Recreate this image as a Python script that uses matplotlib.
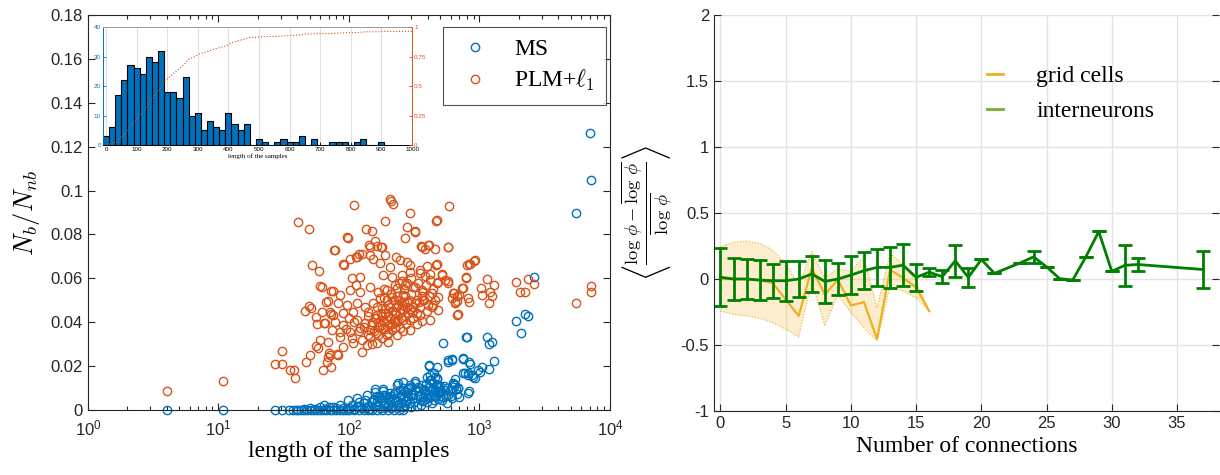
import numpy as np
import matplotlib
matplotlib.use("Agg")
import matplotlib.pyplot as plt
from matplotlib.lines import Line2D
from matplotlib.ticker import FormatStrFormatter, FixedLocator, LogLocator, NullFormatter

plt.rcParams['font.family'] = ['Liberation Sans', 'DejaVu Sans']
plt.rcParams['mathtext.fontset'] = 'cm'
plt.rcParams['axes.unicode_minus'] = False

BLUE = '#0072BD'
ORANGE = '#D95319'
YELLOW = '#EDB120'
LEAF = '#77AC30'
GREEN = '#008000'
SERIF = ['Liberation Serif', 'DejaVu Serif']

# === left panel: N_b/N_nb vs sample length (length, ratio)
ms_points = [
    (4.05, 0), (10.9, 0), (27, 0), (30.5, 0), (35, 0), (37, 0), (39, 0), (41, 0), (43, 0), (45, 0),
    (48, 0), (51, 0), (54, 0), (57, 0), (60, 0), (63, 0), (67, 0), (71, 0), (75, 0), (80, 0),
    (85, 0), (90, 0), (95, 0), (100, 0), (110, 0), (120, 0), (130, 0), (140, 0), (150, 0), (165, 0),
    (180, 0), (200, 0), (220, 0), (240, 0), (260, 0),
    (45, 0.0005), (50, 0.001), (55, 0.0003), (60, 0.0012), (64, 0.0023), (65, 0.0005), (70, 0.0015),
    (76, 0.0015), (80, 0.0008), (85, 0.0023), (90, 0.001), (99, 0.0045), (100, 0.001), (105, 0.0025),
    (110, 0.0005), (115, 0.002), (115, 0.0053), (120, 0.0035), (125, 0.001), (130, 0.003), (133, 0.0046),
    (137, 0.0068), (140, 0.002), (145, 0.0005), (150, 0.0035), (154, 0.0046), (155, 0.005), (157, 0.0095),
    (158, 0.0084), (160, 0.002), (163, 0.0064), (165, 0.004), (170, 0.006), (175, 0.001), (180, 0.0045),
    (182, 0.0095), (183, 0.0088), (183, 0.0068), (185, 0.003), (190, 0.007), (195, 0.0015), (200, 0.005),
    (205, 0.0035), (206, 0.0076), (210, 0.0065), (215, 0.002), (220, 0.0055), (225, 0.008), (230, 0.004),
    (232, 0.0114), (235, 0.0025), (236, 0.0121), (240, 0.006), (245, 0.009), (250, 0.003), (255, 0.0075),
    (259, 0.0128), (260, 0.005), (261, 0.0099), (265, 0.0015), (270, 0.0085), (275, 0.004), (277, 0.0084),
    (280, 0.0065), (290, 0.01), (292, 0.0116), (295, 0.003), (300, 0.0075), (310, 0.0055), (311, 0.0068),
    (318, 0.0131), (320, 0.009), (321, 0.0122), (330, 0.002), (340, 0.0105), (350, 0.0065), (360, 0.004),
    (361, 0.0114), (370, 0.0095), (371, 0.0061), (380, 0.0075), (382, 0.0091), (390, 0.012), (394, 0.0152),
    (400, 0.0055), (405, 0.0073), (409, 0.0207), (410, 0.0105), (412, 0.02), (416, 0.0158), (418, 0.0137),
    (420, 0.0085), (428, 0.0136), (430, 0.003), (440, 0.0125), (448, 0.0167), (450, 0.007), (455, 0.0151),
    (460, 0.0095), (469, 0.0196), (469, 0.0143), (470, 0.0115), (470, 0.0144), (480, 0.005), (480, 0.008),
    (483, 0.0114), (490, 0.0085), (500, 0.0065), (520, 0.0045), (527, 0.006), (528, 0.0304), (540, 0.009),
    (560, 0.003), (561, 0.0099), (576, 0.0068), (576, 0.0226), (577, 0.022), (600, 0.0065), (612, 0.0234),
    (612, 0.0091), (619, 0.0228), (629, 0.0125), (640, 0.012), (647, 0.0143), (649, 0.0114), (668, 0.0075),
    (684, 0.0101), (688, 0.0099), (700, 0.006), (744, 0.0237), (744, 0.0231), (752, 0.0167), (777, 0.017),
    (789, 0.0335), (798, 0.0334), (810, 0.0158), (820, 0.0079), (822, 0.0169), (838, 0.0086), (838, 0.0219),
    (846, 0.021), (871, 0.016), (899, 0.0151), (924, 0.0144), (980, 0.0182), (1010, 0.0174), (1042, 0.0196),
    (1150, 0.0335), (1188, 0.0302), (1190, 0.0189), (1245, 0.0309), (1282, 0.0222), (1919, 0.0405),
    (2085, 0.0352), (2250, 0.0438), (2370, 0.0427), (2630, 0.0604), (5470, 0.0897), (7130, 0.1049),
    (7030, 0.1263),
    (190, 0.0025), (210, 0.001), (230, 0.0045), (250, 0.0065), (270, 0.0025), (285, 0.0055), (300, 0.0015),
    (315, 0.0035), (335, 0.0065), (345, 0.0085), (355, 0.0025), (375, 0.0045), (395, 0.0035), (415, 0.006),
    (435, 0.0095), (445, 0.0045), (465, 0.0065), (475, 0.0105), (495, 0.011), (510, 0.0085), (530, 0.011),
    (550, 0.0065), (590, 0.009), (620, 0.0055), (660, 0.0095), (120, 0.0015), (135, 0.001), (165, 0.0025),
    (175, 0.0055), (200, 0.0025), (220, 0.0075), (240, 0.0015), (280, 0.0095), (300, 0.0105),
]
plm_points = [
    (4.05, 0.0088), (10.9, 0.0131), (27, 0.0211), (30.5, 0.0211), (30.5, 0.0267), (35.5, 0.0181),
    (37.7, 0.0181), (38.4, 0.0146), (40.7, 0.0856), (46, 0.045), (47.2, 0.0219), (49.3, 0.0823),
    (49.5, 0.0475), (50.4, 0.0249), (51.5, 0.0466), (52.5, 0.066), (55.6, 0.0294), (55.6, 0.0423),
    (57, 0.0392), (57.6, 0.0284), (59.4, 0.0632), (59.6, 0.0563), (62.7, 0.0181), (64.5, 0.0397),
    (67.6, 0.0219), (68.5, 0.0241), (68.7, 0.0498), (69.7, 0.0261), (71, 0.0448), (72.5, 0.0196),
    (72.5, 0.0543), (73, 0.0438), (77.1, 0.0729), (81.6, 0.0257), (89.3, 0.0664), (96.5, 0.0788),
    (102, 0.0687), (110, 0.0933), (113, 0.0699), (119, 0.0709), (135, 0.0826), (142, 0.075),
    (151, 0.0815), (158, 0.077), (163, 0.0747), (177, 0.0743), (190, 0.0863), (207, 0.0963),
    (211, 0.0951), (219, 0.094), (292, 0.0898), (278, 0.0833), (318, 0.0815), (359, 0.0747),
    (381, 0.0732), (409, 0.075), (455, 0.0735), (469, 0.0865), (469, 0.0664), (519, 0.0619),
    (576, 0.0744), (576, 0.0589), (587, 0.0928),
    (465, 0.0862), (321, 0.0813), (99, 0.0786), (178, 0.0743), (145, 0.0745), (268, 0.0786),
    (361, 0.0745), (405, 0.0752), (570, 0.0743), (78, 0.0728), (116, 0.0699), (125, 0.0709),
    (91, 0.0661), (145, 0.0707), (154, 0.0688), (189, 0.0707), (229, 0.0699), (246, 0.0684),
    (277, 0.0676), (173, 0.0669), (206, 0.0653), (293, 0.0661), (394, 0.0658), (465, 0.0661),
    (350, 0.0638), (798, 0.0661), (908, 0.0679), (845, 0.0664), (513, 0.0615), (577, 0.0577),
    (544, 0.0593), (783, 0.0603), (752, 0.0557), (700, 0.0524), (631, 0.0532), (649, 0.0486),
    (612, 0.0509), (820, 0.0512), (836, 0.0491), (676, 0.0433),
    (633, 0.0533), (668, 0.0521), (647, 0.049), (675, 0.0498), (681, 0.0438), (731, 0.0558),
    (789, 0.0607), (838, 0.0664), (916, 0.0682), (1023, 0.0558), (1042, 0.0524), (1150, 0.0596),
    (1208, 0.0539), (1245, 0.0521), (1282, 0.0569), (1180, 0.0488), (1919, 0.0584), (2060, 0.0539),
    (2250, 0.0539), (2360, 0.0599), (2630, 0.0574), (5470, 0.0488), (7130, 0.0563), (7130, 0.0539),
    (105, 0.06), (121, 0.0608), (113, 0.057), (183, 0.0615), (212, 0.0608), (253, 0.0615),
    (294, 0.0631), (350, 0.0623), (418, 0.0593), (484, 0.0585),
    (62, 0.0562), (76, 0.0542), (85, 0.0524), (101, 0.0547), (121, 0.0539), (145, 0.0562),
    (168, 0.0539), (194, 0.0547), (232, 0.0555), (269, 0.057), (311, 0.0562), (361, 0.0547),
    (430, 0.0532), (484, 0.0517), (212, 0.0517), (261, 0.0524), (173, 0.0509),
    (67, 0.0491), (83, 0.0486), (96, 0.0479), (115, 0.0486), (133, 0.0471), (154, 0.0486),
    (178, 0.0463), (206, 0.0471), (239, 0.0479), (277, 0.0491), (321, 0.0486), (371, 0.0501),
    (443, 0.0479), (484, 0.0456), (189, 0.0441), (225, 0.0448), (261, 0.0456), (302, 0.0448),
    (350, 0.0433), (163, 0.0433), (141, 0.0448), (108, 0.0448), (90, 0.0441), (76, 0.0433), (62, 0.0448),
    (65, 0.0395), (78, 0.0403), (90, 0.0387), (115, 0.041), (133, 0.0395), (149, 0.0387), (168, 0.0403),
    (194, 0.041), (225, 0.0403), (261, 0.041), (311, 0.0418), (361, 0.0406), (418, 0.041), (183, 0.0372),
    (212, 0.0365), (246, 0.0372), (294, 0.0365), (145, 0.0365), (121, 0.0372), (102, 0.0357), (85, 0.0357),
    (74, 0.0365), (158, 0.0418), (178, 0.0387),
    (60, 0.0319), (69, 0.0311), (85, 0.0334), (105, 0.0327), (125, 0.0319), (145, 0.0334), (168, 0.0342),
    (194, 0.0342), (232, 0.0342), (90, 0.0289), (108, 0.0304), (137, 0.0296), (163, 0.0304), (125, 0.0266),
    (72, 0.0251), (83, 0.0251),
    (160, 0.042), (175, 0.044), (190, 0.046), (200, 0.043), (215, 0.045), (230, 0.047), (245, 0.044),
    (185, 0.04), (205, 0.039), (220, 0.041), (240, 0.05), (255, 0.048), (270, 0.052), (290, 0.05),
    (170, 0.038), (155, 0.036), (195, 0.05), (210, 0.053), (265, 0.055), (300, 0.053), (330, 0.05),
    (320, 0.056), (280, 0.058), (150, 0.04), (140, 0.043), (130, 0.038), (225, 0.038), (250, 0.042),
    (285, 0.044), (310, 0.047), (345, 0.049), (370, 0.054), (390, 0.057), (410, 0.052), (440, 0.055),
    (460, 0.05), (470, 0.058), (420, 0.062), (380, 0.061), (260, 0.036), (200, 0.035), (180, 0.033),
    (240, 0.058),
    (165, 0.047), (185, 0.051), (200, 0.048), (220, 0.05), (235, 0.052), (250, 0.046), (265, 0.049),
    (280, 0.047), (300, 0.046), (180, 0.043), (210, 0.042), (230, 0.044), (270, 0.043), (295, 0.041),
    (330, 0.044), (350, 0.047), (375, 0.05), (400, 0.048), (190, 0.037), (215, 0.039), (235, 0.04),
    (275, 0.039), (160, 0.035), (140, 0.034), (120, 0.036), (110, 0.04), (100, 0.042), (95, 0.037),
    (185, 0.055), (225, 0.057), (255, 0.059), (300, 0.06), (340, 0.058), (360, 0.052), (395, 0.045),
    (430, 0.047), (330, 0.039), (200, 0.031), (150, 0.03),
]

# === inset histogram of sample lengths (bin centers, counts)
hist_centers = list(range(0, 920, 20))
hist_counts = [3, 6, 17, 22, 27, 26, 24, 30, 28, 32, 18, 18, 16, 23, 10, 11, 5, 8, 6, 5, 11, 7, 5, 7,
               0, 2, 1, 0, 1, 2, 1, 1, 3, 0, 2, 0, 0, 1, 1, 1, 0, 1, 2, 0, 0, 1]
n_samples_total = 400

# === right panel: grid cells (mean + band) and interneurons (mean +- err)
grid_conn = list(range(0, 17))
grid_mean = [0.0, 0.0, 0.0, -0.01, -0.03, -0.155, -0.28, 0.083, -0.118, -0.005, -0.2, -0.175,
             -0.455, 0.07, 0.008, -0.063, -0.243]
grid_upper = [0.245, 0.278, 0.288, 0.27, 0.22, 0.12, -0.05, 0.208, 0.0075, 0.08, 0.058, 0.17,
              -0.22, 0.195, 0.108, -0.018, -0.243]
grid_lower = [-0.243, -0.268, -0.28, -0.298, -0.33, -0.38, -0.44, -0.018, -0.355, -0.12, -0.255,
              -0.37, -0.47, -0.055, -0.093, -0.143, -0.243]

inter_conn = [0, 1, 2, 3, 4, 5, 6, 7, 8, 9, 10, 11, 12, 13, 14, 15, 16, 17, 18, 19, 20, 21,
              23, 24, 25, 26, 27, 28, 29, 30, 31, 32, 37]
inter_mean = [0.013, 0.0, 0.0, -0.008, -0.013, -0.013, 0.0, 0.038, -0.018, 0.0, 0.03, 0.063,
              0.088, 0.088, 0.105, 0.0125, 0.052, 0.018, 0.138, 0.0125, 0.148, 0.043,
              0.123, 0.168, 0.092, 0.003, -0.008, 0.166, 0.36, 0.058, 0.104, 0.11, 0.072]
inter_err = [0.22, 0.157, 0.15, 0.15, 0.13, 0.15, 0.135, 0.134, 0.16, 0.12, 0.145, 0.14,
             0.138, 0.157, 0.16, 0.1, 0.032, 0.05, 0.12, 0.07, 0.0, 0.0,
             0.0, 0.045, 0.0, 0.0, 0.0, 0.0, 0.0, 0.0, 0.155, 0.05, 0.14]


def matlab_ticks(ax, size=12):
    ax.tick_params(direction='in', which='both', top=True, right=True, labelsize=size,
                   length=5, width=0.8, colors='#262626')
    ax.tick_params(which='minor', length=3)
    for s in ax.spines.values():
        s.set_color('#262626')
        s.set_linewidth(0.8)


fig = plt.figure(figsize=(12.2, 4.75), dpi=100)

# === left panel
ax1 = fig.add_axes([0.0721, 0.1368, 0.4279, 0.8316])
ms_len, ms_ratio = np.array(ms_points).T
plm_len, plm_ratio = np.array(plm_points).T
ax1.plot(ms_len, ms_ratio, 'o', mfc='none', mec=BLUE, ms=6, mew=1, clip_on=False,
         linestyle='none', label='MS')
ax1.plot(plm_len, plm_ratio, 'o', mfc='none', mec=ORANGE, ms=6, mew=1, clip_on=False,
         linestyle='none', label=r'PLM+$\ell_1$')
ax1.set_xscale('log')
ax1.set_xlim(1, 1e4)
ax1.set_ylim(0, 0.18)
ax1.set_yticks(np.arange(0, 0.181, 0.02))
ax1.yaxis.set_major_formatter(FormatStrFormatter('%g'))
ax1.xaxis.set_major_locator(FixedLocator([1, 10, 100, 1000, 10000]))
ax1.set_xticklabels([r'$\mathregular{10^{%d}}$' % k for k in range(5)])
ax1.xaxis.set_minor_locator(LogLocator(base=10, subs=np.arange(2, 10)))
ax1.xaxis.set_minor_formatter(NullFormatter())
matlab_ticks(ax1)
ax1.tick_params(axis='x', pad=6)
ax1.set_xlabel('length of the samples', family=SERIF, fontsize=17, labelpad=2)
ax1.set_ylabel(r'$N_b/N_{nb}$', fontsize=19, labelpad=6)
leg = ax1.legend(loc='upper right', bbox_to_anchor=(0.993, 0.97), prop={'family': SERIF, 'size': 17},
                 fancybox=False, edgecolor='#262626', handletextpad=0.8, borderpad=0.5,
                 labelspacing=0.35, handlelength=1.7, borderaxespad=0)
leg.get_frame().set_linewidth(0.8)

# === inset histogram
axi = fig.add_axes([0.0844, 0.6947, 0.2533, 0.2484])
axi.bar(hist_centers, hist_counts, width=20, color=BLUE, edgecolor='black', linewidth=0.8, zorder=2)
axi.set_xlim(-10, 1000)
axi.set_ylim(0, 40)
axi.set_xticks(range(0, 1001, 100))
axi.set_yticks(range(0, 41, 10))
axi.grid(axis='x', color='#e0e0e0', linewidth=0.8, zorder=0)
axi.set_axisbelow(True)
axi.tick_params(direction='in', labelsize=4.5, length=2.5, width=0.6, pad=1.5, top=False)
axi.tick_params(axis='y', colors=BLUE)
axi.spines['left'].set_color(BLUE)
axi.spines['right'].set_color(ORANGE)
axi.spines['top'].set_color('#999999')
for s in axi.spines.values():
    s.set_linewidth(0.7)
axi.set_xlabel('length of the samples', family=SERIF, fontsize=5, labelpad=1)
axr = axi.twinx()
cdf_x = [0] + [c + 10 for c in hist_centers] + [1000]
cdf_y = np.cumsum([0] + hist_counts + [0]) / n_samples_total
axr.plot(cdf_x, cdf_y, ':', color=ORANGE, linewidth=0.8)
axr.set_ylim(0, 1)
axr.set_yticks([0, 0.25, 0.5, 0.75, 1])
axr.yaxis.set_major_formatter(FormatStrFormatter('%g'))
axr.tick_params(direction='in', labelsize=4.5, length=2.5, width=0.6, pad=1.5, colors=ORANGE)
for s in axr.spines.values():
    s.set_visible(False)

# === right panel
ax2 = fig.add_axes([0.5852, 0.1347, 0.4138, 0.8337])
ax2.fill_between(grid_conn, grid_lower, grid_upper, facecolor=YELLOW, alpha=0.22, edgecolor='none')
ax2.plot(grid_conn, grid_upper, ':', color=YELLOW, linewidth=0.8)
ax2.plot(grid_conn, grid_lower, ':', color=YELLOW, linewidth=0.8)
ax2.plot(grid_conn, grid_mean, color=YELLOW, linewidth=1.6)
ax2.errorbar(inter_conn, inter_mean, yerr=inter_err, color=GREEN, linewidth=2, elinewidth=2,
             capsize=5, capthick=2)
ax2.set_xlim(-0.5, 38.2)
ax2.set_ylim(-1, 2)
ax2.set_xticks(range(0, 36, 5))
ax2.set_yticks(np.arange(-1, 2.01, 0.5))
ax2.yaxis.set_major_formatter(FormatStrFormatter('%g'))
ax2.grid(True, color='#e3e3e3', linewidth=1)
ax2.set_axisbelow(True)
matlab_ticks(ax2)
ax2.tick_params(top=False)
ax2.spines['top'].set_visible(False)
ax2.spines['right'].set_visible(False)
ax2.set_xlabel('Number of connections', family=SERIF, fontsize=17, labelpad=4)
ax2.set_ylabel(r'$\left\langle\frac{\log\,\phi-\overline{\log\,\phi}}{\overline{\log\,\phi}}\right\rangle$',
               fontsize=19, labelpad=4)
handles = [Line2D([], [], color=YELLOW, linewidth=2), Line2D([], [], color=LEAF, linewidth=2)]
ax2.legend(handles, ['grid cells', 'interneurons'], loc='upper left', bbox_to_anchor=(0.498, 0.925),
           frameon=False, prop={'family': SERIF, 'size': 17}, handlelength=0.7, handletextpad=1.4,
           labelspacing=0.55)

fig.savefig('out.png', dpi=100)
